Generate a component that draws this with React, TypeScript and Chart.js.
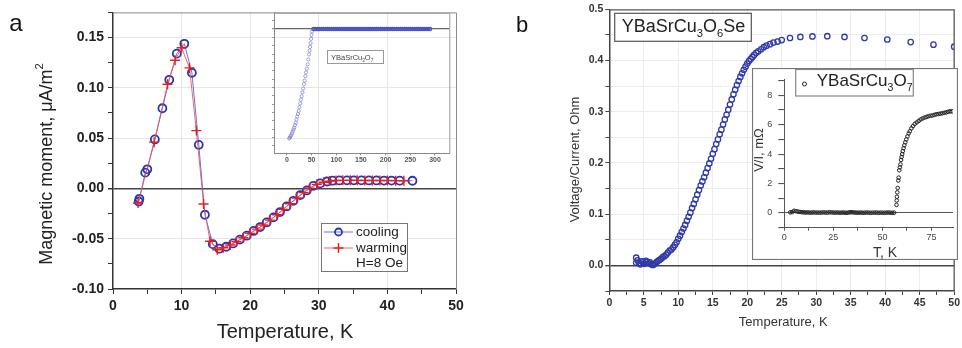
import React, { useEffect, useRef } from 'react';
import { Chart, registerables } from 'chart.js';
Chart.register(...registerables);

// ---------------- Panel a: magnetic moment ----------------
const coolT = [3.75, 3.85, 4.7, 5.0, 6.1, 7.2, 8.2, 9.3, 10.4, 11.5, 12.5, 13.4, 14.55, 15.5, 16.5, 17.5, 18.5, 19.5, 20.5, 21.45, 22.4, 23.4, 24.35, 25.3, 26.3, 27.3, 28.25, 29.2, 30.2, 31.2, 32.0, 33.0, 34.1, 35.1, 36.2, 37.3, 38.4, 39.5, 40.6, 41.8, 43.65];
const coolM = [-0.0130, -0.0103, 0.0157, 0.0190, 0.0487, 0.0797, 0.1080, 0.1340, 0.1438, 0.1150, 0.0433, -0.0262, -0.0554, -0.0599, -0.0580, -0.0547, -0.0509, -0.0470, -0.0423, -0.0384, -0.0338, -0.0288, -0.0235, -0.0179, -0.0123, -0.0066, -0.0020, 0.0025, 0.0050, 0.0069, 0.0077, 0.0079, 0.0080, 0.0080, 0.0080, 0.0079, 0.0079, 0.0078, 0.0078, 0.0077, 0.0076];
const warmT = [3.65, 6.0, 7.95, 9.05, 10.0, 11.15, 12.15, 13.2, 14.15, 15.2, 16.1, 17.1, 18.0, 19.0, 20.0, 21.0, 21.9, 22.9, 23.9, 24.8, 25.8, 26.8, 27.8, 28.7, 29.7, 30.7, 31.6, 32.5, 33.5, 34.6, 35.6, 36.7, 37.8, 38.9, 40.0, 41.2, 42.4];
const warmM = [-0.0145, 0.0460, 0.1035, 0.1275, 0.1398, 0.1198, 0.0575, -0.0155, -0.0525, -0.0610, -0.0590, -0.0563, -0.0530, -0.0490, -0.0447, -0.0405, -0.0363, -0.0315, -0.0262, -0.0208, -0.0152, -0.0095, -0.0042, 0.0003, 0.0040, 0.0062, 0.0073, 0.0078, 0.0080, 0.0080, 0.0080, 0.0079, 0.0079, 0.0078, 0.0078, 0.0077, 0.0076];
const aXTicks = [0, 10, 20, 30, 40, 50];

// inset of panel a (arbitrary units, 0 = upper line)
const iaRiseT = [4.7, 6, 7.5, 9, 10.5, 12, 13.5, 15, 16.5, 18, 19.5, 21, 22.5, 24, 25.5, 27, 28.5, 30, 31.5, 33, 34.5, 36, 37.5, 39, 40.5, 42, 43.5, 45, 46, 47, 48, 49, 50, 51];
const iaRiseM = [-13.12, -13.02, -12.87, -12.72, -12.50, -12.28, -12.05, -11.83, -11.53, -11.23, -10.86, -10.49, -10.19, -9.82, -9.37, -8.93, -8.48, -8.06, -7.59, -7.14, -6.62, -6.18, -5.65, -5.21, -4.76, -4.24, -3.65, -3.05, -2.60, -2.16, -1.71, -1.19, -0.71, -0.30];
const iaFlatT = [54, 58, 62, 66, 70, 74, 78, 82, 86, 90, 94, 98, 102, 106, 110, 114, 118, 122, 126, 130, 134, 138, 142, 146, 150, 154, 158, 162, 166, 170, 174, 178, 182, 186, 190, 194, 198, 202, 206, 210, 214, 218, 222, 226, 230, 234, 238, 242, 246, 250, 254, 258, 262, 266, 270, 274, 278, 282, 286, 290];
const iaFlatM = [0, 0, 0, 0, 0, 0, 0, 0, 0, 0, 0, 0, 0, 0, 0, 0, 0, 0, 0, 0, 0, 0, 0, 0, 0, 0, 0, 0, 0, 0, 0, 0, 0, 0, 0, 0, 0, 0, 0, 0, 0, 0, 0, 0, 0, 0, 0, 0, 0, 0, 0, 0, 0, 0, 0, 0, 0, 0, 0, 0];

// ---------------- Panel b: resistance ----------------
const bT = [3.9, 3.9, 4.1, 4.3, 4.5, 4.7, 4.9, 5.1, 5.3, 5.5, 5.7, 5.9, 6.1, 6.3, 6.5, 6.7, 6.9, 7.1, 7.3, 7.5, 7.75, 8.0, 8.25, 8.5, 8.75, 9.0, 9.25, 9.5, 9.75, 10.0, 10.25, 10.5, 10.75, 11.0, 11.25, 11.5, 11.75, 12.0, 12.25, 12.5, 12.75, 13.0, 13.25, 13.5, 13.75, 14.0, 14.25, 14.5, 14.75, 15.0, 15.25, 15.5, 15.75, 16.0, 16.25, 16.5, 16.75, 17.0, 17.25, 17.5, 17.75, 18.0, 18.25, 18.5, 18.75, 19.0, 19.25, 19.5, 19.75, 20.0, 20.25, 20.5, 20.75, 21.0, 21.3, 21.6, 22.0, 22.4, 22.8, 23.3, 23.8, 24.4, 25.0, 26.2, 27.7, 29.45, 31.6, 34.1, 37.0, 40.3, 43.7, 47.0, 50.0];
const bR = [0.015, 0.005, 0.010, 0.004, 0.002, 0.008, 0.006, 0.003, 0.009, 0.007, 0.004, 0.006, 0.002, 0.001, 0.002, 0.004, 0.007, 0.009, 0.011, 0.013, 0.016, 0.018, 0.021, 0.025, 0.029, 0.031, 0.035, 0.040, 0.045, 0.052, 0.058, 0.065, 0.072, 0.079, 0.087, 0.095, 0.103, 0.112, 0.120, 0.129, 0.138, 0.147, 0.156, 0.164, 0.172, 0.181, 0.190, 0.199, 0.208, 0.218, 0.227, 0.237, 0.246, 0.256, 0.265, 0.275, 0.285, 0.294, 0.304, 0.314, 0.324, 0.334, 0.343, 0.352, 0.360, 0.368, 0.375, 0.382, 0.388, 0.394, 0.399, 0.403, 0.407, 0.411, 0.415, 0.418, 0.422, 0.426, 0.429, 0.432, 0.435, 0.437, 0.440, 0.444, 0.446, 0.447, 0.4475, 0.446, 0.444, 0.441, 0.436, 0.431, 0.427];

// inset of panel b (V/I, mOhm)
const ibFlatT = [3, 4, 5, 6, 7, 8, 9, 10, 11, 12, 13, 14, 15, 16, 17, 18, 19, 20, 21, 22, 23, 24, 25, 26, 27, 28, 29, 30, 31, 32, 33, 34, 35, 36, 37, 38, 39, 40, 41, 42, 43, 44, 45, 46, 47, 48, 49, 50, 51, 52, 53, 54, 55, 56];
const ibFlatR = [0.04, 0.06, 0.15, 0.12, 0.09, 0.07, 0.05, 0.04, 0.03, 0.04, 0.02, 0.03, 0.04, 0.02, 0.03, 0.02, 0.03, 0.04, 0.03, 0.02, 0.05, 0.04, 0.03, 0.02, 0.03, 0.02, 0.02, 0.03, 0.02, 0.01, 0.04, 0.05, 0.04, 0.03, 0.02, 0.02, 0.03, 0.01, 0.02, 0.03, 0.02, 0.01, 0.02, 0.02, 0.03, 0.01, 0.02, 0.02, 0.01, 0.02, 0.03, 0.02, 0.01, 0.02];
const ibRiseT = [57.2, 57.3, 57.4, 57.6, 57.8, 58.1, 58.3, 58.6, 58.9, 59.2, 59.5, 59.8, 60.1, 60.4, 60.8, 61.2, 61.7, 62.2, 62.8, 63.4, 64, 64.8, 65.6, 66.5, 67.5, 68.5, 69.5, 70.5, 71.5, 72.5, 73.5, 74.5, 75.5, 76.5, 77.5, 78.5, 79.5, 80.5, 81.5, 82.5, 83.5, 84.5, 85.5];
const ibRiseR = [0.55, 0.85, 1.1, 1.4, 1.7, 2.2, 2.4, 2.9, 3.1, 3.3, 3.6, 3.8, 4.0, 4.2, 4.4, 4.6, 4.8, 5.0, 5.2, 5.4, 5.55, 5.75, 5.9, 6.05, 6.15, 6.25, 6.35, 6.42, 6.48, 6.52, 6.57, 6.6, 6.62, 6.66, 6.7, 6.72, 6.74, 6.77, 6.8, 6.83, 6.87, 6.9, 6.9];

// ---------------- helpers ----------------
const FF = '"Liberation Sans", Arial, Helvetica, sans-serif';
const fnt = (size: number, bold = false) => `${bold ? 'bold ' : ''}${size}px ${FF}`;
const pts = (xs: number[], ys: number[]) => xs.map((x, i) => ({ x, y: ys[i] }));
const NONE = 'rgba(0,0,0,0)';

type Part = { t: string; s?: 'sub' | 'sup' };
type TextItem = { x: number; y: number; parts: Part[]; size: number; bold?: boolean; color?: string; rot?: number; align?: 'left' | 'center' | 'right'; base?: CanvasTextBaseline };

function drawRich(ctx: CanvasRenderingContext2D, it: TextItem) {
  ctx.save();
  ctx.translate(it.x, it.y);
  if (it.rot) ctx.rotate(it.rot);
  ctx.fillStyle = it.color || '#222';
  ctx.textBaseline = it.base || 'middle';
  ctx.textAlign = 'left';
  const sz = (p: Part) => (p.s ? it.size * 0.62 : it.size);
  const widths = it.parts.map((p) => { ctx.font = fnt(sz(p), it.bold); return ctx.measureText(p.t).width; });
  const total = widths.reduce((a, b) => a + b, 0);
  let x = it.align === 'left' ? 0 : it.align === 'right' ? -total : -total / 2;
  it.parts.forEach((p, i) => {
    ctx.font = fnt(sz(p), it.bold);
    const dy = p.s === 'sub' ? it.size * 0.3 : p.s === 'sup' ? -it.size * 0.38 : 0;
    ctx.fillText(p.t, x, dy);
    x += widths[i];
  });
  ctx.restore();
}

function boxRect(ctx: CanvasRenderingContext2D, x1: number, y1: number, x2: number, y2: number, stroke: string, fill?: string, lw = 1) {
  ctx.save();
  if (fill) { ctx.fillStyle = fill; ctx.fillRect(x1, y1, x2 - x1, y2 - y1); }
  ctx.strokeStyle = stroke; ctx.lineWidth = lw;
  ctx.strokeRect(x1, y1, x2 - x1, y2 - y1);
  ctx.restore();
}

const bgPlugin = (color: string) => ({
  id: 'bgfill',
  beforeDraw(chart: any) {
    const c = chart.ctx; c.save(); c.fillStyle = color; c.fillRect(0, 0, chart.width, chart.height); c.restore();
  },
});
const overlay = (draw: (chart: any, ctx: CanvasRenderingContext2D) => void) => ({
  id: 'overlay',
  afterDraw(chart: any) { const c = chart.ctx; c.save(); draw(chart, c); c.restore(); },
});

const near = (a: number, b: number) => Math.abs(a - b) < 1e-7;
const isMult = (v: number, step: number) => near(v / step, Math.round(v / step));

// ---------------- chart configs ----------------
function cfgA(): any {
  return {
    type: 'scatter',
    data: {
      datasets: [
        { label: 'warming', data: pts(warmT, warmM), showLine: true, borderColor: 'rgba(238,80,80,0.85)', borderWidth: 1, pointStyle: 'cross', pointRadius: 5, pointBorderColor: 'rgb(236,28,28)', pointBorderWidth: 1.4, pointBackgroundColor: 'rgb(236,28,28)' },
        { label: 'cooling', data: pts(coolT, coolM), showLine: true, borderColor: 'rgba(80,90,215,0.85)', borderWidth: 1, pointStyle: 'circle', pointRadius: 4, pointBorderColor: 'rgb(42,52,175)', pointBorderWidth: 1.8, pointBackgroundColor: NONE },
      ],
    },
    options: {
      animation: false, responsive: false, devicePixelRatio: 1,
      layout: { padding: { left: 0, right: 24, top: 9, bottom: 0 } },
      plugins: { legend: { display: false }, tooltip: { enabled: false } },
      scales: {
        x: {
          type: 'linear', min: 0, max: 50, afterFit: (s: any) => { s.height = 59; },
          ticks: { stepSize: 5, includeBounds: false, autoSkip: false, maxRotation: 0, padding: 4, font: { family: FF, size: 14, weight: 'bold' }, color: '#222', callback: (v: number) => (aXTicks.includes(v) ? String(v) : '') },
          grid: { color: (c: any) => (c.tick && isMult(c.tick.value, 10) && c.tick.value > 0 && c.tick.value < 50 ? '#e6e6e6' : NONE), tickColor: '#333', tickLength: 5, lineWidth: 1 },
          border: { color: '#333', width: 1.5 },
        },
        y: {
          type: 'linear', min: -0.1, max: 0.175, afterFit: (s: any) => { s.width = 113; },
          ticks: { stepSize: 0.025, includeBounds: false, autoSkip: false, padding: 4, font: { family: FF, size: 14, weight: 'bold' }, color: '#222', callback: (v: number) => (isMult(v, 0.05) ? v.toFixed(2) : '') },
          grid: {
            color: (c: any) => { const v = c.tick ? c.tick.value : 1; if (near(v, 0)) return '#444'; return isMult(v, 0.05) && v > -0.09 ? '#e6e6e6' : NONE; },
            lineWidth: (c: any) => (c.tick && near(c.tick.value, 0) ? 1.5 : 1), tickColor: '#333', tickLength: 5,
          },
          border: { color: '#333', width: 1.5 },
        },
      },
    },
    plugins: [overlay((chart, ctx) => {
      const a = chart.chartArea;
      ctx.strokeStyle = '#8a8a8a'; ctx.lineWidth = 1;
      ctx.beginPath(); ctx.moveTo(a.left, a.top + 0.5); ctx.lineTo(a.right + 0.5, a.top + 0.5); ctx.lineTo(a.right + 0.5, a.bottom); ctx.stroke();
      // legend
      boxRect(ctx, 321.5, 223.5, 407.5, 271.5, '#777', '#fff');
      const rows = [232, 248];
      const ds = chart.data.datasets;
      [ds[1], ds[0]].forEach((d: any, i: number) => {
        const y = rows[i];
        ctx.strokeStyle = d.borderColor; ctx.lineWidth = 1;
        ctx.beginPath(); ctx.moveTo(324, y); ctx.lineTo(353, y); ctx.stroke();
        ctx.strokeStyle = d.pointBorderColor; ctx.lineWidth = d.pointBorderWidth;
        ctx.beginPath();
        if (d.pointStyle === 'circle') ctx.arc(338.5, y, 3.5, 0, Math.PI * 2);
        else { ctx.moveTo(333.5, y); ctx.lineTo(343.5, y); ctx.moveTo(338.5, y - 5); ctx.lineTo(338.5, y + 5); }
        ctx.stroke();
        drawRich(ctx, { x: 356, y, parts: [{ t: d.label }], size: 13.5, align: 'left', color: '#222' });
      });
      drawRich(ctx, { x: 356, y: 263.5, parts: [{ t: 'H=8 Oe' }], size: 13.5, align: 'left', color: '#222' });
      drawRich(ctx, { x: 16, y: 24, parts: [{ t: 'a' }], size: 24, color: '#111' });
      drawRich(ctx, { x: 285, y: 332, parts: [{ t: 'Temperature, K' }], size: 20, color: '#222' });
      drawRich(ctx, { x: 47, y: 164, rot: -Math.PI / 2, parts: [{ t: 'Magnetic moment, \u03bcA/m' }, { t: '2', s: 'sup' }], size: 18, color: '#222' });
    })],
  };
}

function cfgAInset(): any {
  return {
    type: 'scatter',
    data: {
      datasets: [
        { data: pts(iaFlatT, iaFlatM), pointRadius: 1.6, pointBorderWidth: 1.3, pointBorderColor: 'rgb(72,84,200)', pointBackgroundColor: NONE },
        { data: pts(iaRiseT, iaRiseM), pointRadius: 1.6, pointBorderWidth: 0.9, pointBorderColor: 'rgba(125,125,215,0.8)', pointBackgroundColor: NONE },
      ],
    },
    options: {
      animation: false, responsive: false, devicePixelRatio: 1,
      layout: { padding: { left: 0, right: 6.7, top: 7.7, bottom: 0 } },
      plugins: { legend: { display: false }, tooltip: { enabled: false } },
      scales: {
        x: {
          type: 'linear', min: -26, max: 329, afterFit: (s: any) => { s.height = 13.7; },
          ticks: { stepSize: 50, includeBounds: false, autoSkip: false, maxRotation: 0, padding: 1, font: { family: FF, size: 7, weight: 'bold' }, color: '#555' },
          grid: { drawOnChartArea: false, tickLength: 2, tickColor: '#888' },
          border: { color: '#888', width: 1 },
        },
        y: {
          type: 'linear', min: -14.9, max: 1.95, afterFit: (s: any) => { s.width = 8; },
          ticks: { display: false, stepSize: 1, includeBounds: false },
          grid: { color: (c: any) => (c.tick && near(c.tick.value, 0) ? '#666' : NONE), lineWidth: (c: any) => (c.tick && near(c.tick.value, 0) ? 1.3 : 1), tickLength: 2, tickColor: '#999' },
          border: { color: '#888', width: 1 },
        },
      },
    },
    plugins: [overlay((chart, ctx) => {
      const a = chart.chartArea;
      ctx.strokeStyle = '#999'; ctx.lineWidth = 1;
      ctx.beginPath(); ctx.moveTo(a.left, a.top + 0.5); ctx.lineTo(a.right + 0.5, a.top + 0.5); ctx.lineTo(a.right + 0.5, a.bottom); ctx.stroke();
      boxRect(ctx, 61.5, 45.5, 117.5, 58.5, '#999', '#fff');
      drawRich(ctx, { x: 65, y: 55, base: 'alphabetic', align: 'left', parts: [{ t: 'YBaSrCu' }, { t: '3', s: 'sub' }, { t: 'O' }, { t: '7', s: 'sub' }], size: 7.5, color: '#444' });
    })],
  };
}

function cfgB(): any {
  return {
    type: 'scatter',
    data: {
      datasets: [
        { data: pts(bT, bR), pointStyle: 'circle', pointRadius: 2.7, pointBorderWidth: 1.3, pointBorderColor: 'rgb(48,58,168)', pointBackgroundColor: NONE },
      ],
    },
    options: {
      animation: false, responsive: false, devicePixelRatio: 1,
      layout: { padding: { left: 0, right: 4.7, top: 9.3, bottom: 0 } },
      plugins: { legend: { display: false }, tooltip: { enabled: false } },
      scales: {
        x: {
          type: 'linear', min: 0, max: 50, afterFit: (s: any) => { s.height = 57; },
          ticks: { stepSize: 2.5, includeBounds: false, autoSkip: false, maxRotation: 0, padding: 2, font: { family: FF, size: 10.5, weight: 'bold' }, color: '#333', callback: (v: number) => (isMult(v, 5) ? String(v) : '') },
          grid: { color: (c: any) => (c.tick && isMult(c.tick.value, 5) && c.tick.value > 0 && c.tick.value < 50 ? '#ececec' : NONE), tickColor: '#444', tickLength: 4 },
          border: { color: '#444', width: 1.5 },
        },
        y: {
          type: 'linear', min: -0.05, max: 0.5, afterFit: (s: any) => { s.width = 129.3; },
          ticks: { stepSize: 0.05, includeBounds: false, autoSkip: false, padding: 2, font: { family: FF, size: 10.5, weight: 'bold' }, color: '#333', callback: (v: number) => (isMult(v, 0.1) ? v.toFixed(1) : '') },
          grid: {
            color: (c: any) => { const v = c.tick ? c.tick.value : 1; if (near(v, 0)) return '#444'; return v > -0.04 && v < 0.49 ? '#ececec' : NONE; },
            lineWidth: (c: any) => (c.tick && near(c.tick.value, 0) ? 1.4 : 1), tickColor: '#444', tickLength: 4,
          },
          border: { color: '#444', width: 1.5 },
        },
      },
    },
    plugins: [overlay((chart, ctx) => {
      const a = chart.chartArea;
      ctx.strokeStyle = '#555'; ctx.lineWidth = 1.3;
      ctx.beginPath(); ctx.moveTo(a.left, a.top + 0.5); ctx.lineTo(a.right, a.top + 0.5); ctx.lineTo(a.right, a.bottom); ctx.stroke();
      boxRect(ctx, 134.7, 13.3, 271.3, 41.3, '#555', '#fff', 1.2);
      drawRich(ctx, { x: 141.7, y: 31.7, base: 'alphabetic', align: 'left', parts: [{ t: 'YBaSrCu' }, { t: '3', s: 'sub' }, { t: 'O' }, { t: '6', s: 'sub' }, { t: 'Se' }], size: 18, color: '#222' });
      drawRich(ctx, { x: 42, y: 26, parts: [{ t: 'b' }], size: 22, color: '#111' });
      drawRich(ctx, { x: 303.3, y: 322.7, parts: [{ t: 'Temperature, K' }], size: 13, color: '#333' });
      drawRich(ctx, { x: 95, y: 159.5, rot: -Math.PI / 2, parts: [{ t: 'Voltage/Current, Ohm' }], size: 13, color: '#333' });
    })],
  };
}

function cfgBInset(): any {
  return {
    type: 'scatter',
    data: {
      datasets: [
        { data: pts(ibFlatT.concat(ibRiseT), ibFlatR.concat(ibRiseR)), pointStyle: 'circle', pointRadius: 1.8, pointBorderWidth: 1, pointBorderColor: '#222', pointBackgroundColor: NONE },
      ],
    },
    options: {
      animation: false, responsive: false, devicePixelRatio: 1,
      layout: { padding: { left: 0, right: 0.7, top: 2, bottom: 0 } },
      plugins: { legend: { display: false }, tooltip: { enabled: false } },
      scales: {
        x: {
          type: 'linear', min: 0, max: 86, afterFit: (s: any) => { s.height = 32.3; },
          ticks: { stepSize: 12.5, includeBounds: false, autoSkip: false, maxRotation: 0, padding: 1, font: { family: FF, size: 9 }, color: '#444', callback: (v: number) => (isMult(v, 25) ? String(v) : '') },
          grid: { drawOnChartArea: false, tickColor: '#555', tickLength: 3 },
          border: { color: '#555', width: 1 },
        },
        y: {
          type: 'linear', min: -1, max: 9.07, afterFit: (s: any) => { s.width = 32.3; },
          ticks: { stepSize: 1, includeBounds: false, autoSkip: false, padding: 6, font: { family: FF, size: 9 }, color: '#444', callback: (v: number) => (isMult(v, 2) ? String(v) : '') },
          grid: { color: (c: any) => (c.tick && near(c.tick.value, 0) ? '#555' : NONE), lineWidth: 1.1, tickColor: '#555', tickLength: (c: any) => 6 },
          border: { color: '#555', width: 1 },
        },
      },
    },
    plugins: [bgPlugin('#fff'), overlay((chart, ctx) => {
      boxRect(ctx, 0.5, 0.5, 205.5, 191.5, '#777', undefined, 1.2);
      boxRect(ctx, 43.7, 1.5, 161.3, 28, '#888', '#fff', 1.2);
      ctx.strokeStyle = '#222'; ctx.lineWidth = 1;
      ctx.beginPath(); ctx.arc(52.5, 16, 2, 0, Math.PI * 2); ctx.stroke();
      drawRich(ctx, { x: 64.7, y: 18, base: 'alphabetic', align: 'left', parts: [{ t: 'YBaSrCu' }, { t: '3', s: 'sub' }, { t: 'O' }, { t: '7', s: 'sub' }], size: 17, color: '#222' });
      drawRich(ctx, { x: 133, y: 185, parts: [{ t: 'T, K' }], size: 14, color: '#333' });
      drawRich(ctx, { x: 7.5, y: 82, rot: -Math.PI / 2, parts: [{ t: 'V/I, m\u03a9' }], size: 13, color: '#333' });
    })],
  };
}

function ChartBox(props: { left: number; top: number; width: number; height: number; make: () => any }) {
  const ref = useRef<HTMLCanvasElement | null>(null);
  useEffect(() => {
    const chart = new Chart(ref.current as HTMLCanvasElement, props.make());
    return () => chart.destroy();
  }, []);
  const { left, top, width, height } = props;
  return (
    <canvas ref={ref} width={width} height={height}
      style={{ position: 'absolute', left, top, width: width + 'px', height: height + 'px', display: 'block' }} />
  );
}

export default function App() {
  return (
    <div style={{ position: 'fixed', left: 0, top: 0, width: 962, height: 348, background: '#fff', overflow: 'hidden' }}>
      <ChartBox left={0} top={0} width={480} height={348} make={cfgA} />
      <ChartBox left={266} top={5} width={190} height={162} make={cfgAInset} />
      <ChartBox left={480} top={0} width={482} height={348} make={cfgB} />
      <ChartBox left={752} top={68} width={206} height={192} make={cfgBInset} />
    </div>
  );
}
